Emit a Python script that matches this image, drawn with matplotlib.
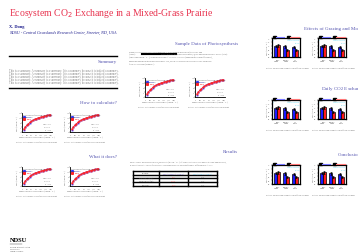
import matplotlib
matplotlib.use("Agg")
import matplotlib.pyplot as plt
from matplotlib.lines import Line2D
from matplotlib.patches import Rectangle

W, H = 358, 253

# ---- data ----
par = [100, 200, 300, 400, 500, 600, 700, 800, 900, 1000, 1100, 1200, 1300, 1400, 1500, 1600, 1700, 1800]
nee_obs = [2.0, 4.1, 5.5, 7.1, 8.0, 9.1, 9.8, 10.7, 11.1, 11.8, 12.1, 12.7, 12.9, 13.4, 13.6, 14.1, 14.2, 14.7]
nee_mod = [2.3, 4.0, 5.6, 6.9, 8.1, 9.0, 9.9, 10.6, 11.2, 11.7, 12.2, 12.6, 13.0, 13.3, 13.7, 14.0, 14.3, 14.6]

groups = ["Heavy\ngrazing", "Moderate\ngrazing", "Idle\nmowed"]
bar_blue = [0.58, 0.56, 0.52]
bar_red = [0.62, 0.38, 0.35]
err_blue = [0.07, 0.06, 0.05]
err_red = [0.08, 0.05, 0.05]

table_head = ["Treatment", "NEE (dark/post of 40 cm/yr)", "NEE (40 cm/yr/50 cm/yr)"]
table_rows = [["Ecosystem (control)", "0.041", "0.03a"],
              ["Partial canopy (fall)", "0.038b", "0.02a"],
              ["Ecosystem", "0.04b", "0.03a"]]

summary = "This is a summary. A summary is a summary. It is a summary because it is indeed a summary."

TITLE_C = "#e8334f"
HEAD_C = "#5555b0"
NAVY = "#1c1c8c"
BODY_C = "#888888"

plt.rcParams["font.family"] = ["Liberation Serif", "DejaVu Serif"]
fig = plt.figure(figsize=(W / 100, H / 100), dpi=100)
fig.patch.set_facecolor("white")


def T(x, y, s, **kw):
    kw.setdefault("va", "center")
    fig.text(x / W, 1 - y / H, s, **kw)


def hline(x0, x1, y, lw=1.0, color="black"):
    fig.add_artist(Line2D([x0 / W, x1 / W], [1 - y / H, 1 - y / H], transform=fig.transFigure,
                          lw=lw, color=color))


def add_ax(x, y, w, h):
    return fig.add_axes([x / W, 1 - (y + h) / H, w / W, h / H])


def curve_chart(x, y):
    ax = add_ax(x, y, 30, 19)
    ax.plot(par, nee_obs, "s", ms=1.3, color="#3333ff", mew=0)
    ax.plot(par, nee_mod, "s", ms=1.3, color="#ff2222", mew=0)
    ax.plot(par, nee_mod, "-", lw=0.6, color="#ff2222")
    ax.set_xlim(0, 1900)
    ax.set_ylim(0, 16)
    for s in ["top", "right"]:
        ax.spines[s].set_visible(False)
    for s in ["left", "bottom"]:
        ax.spines[s].set_linewidth(0.6)
    ax.tick_params(length=0.8, width=0.3, labelsize=1.2, pad=0.3, colors="#555555")
    ax.set_xticks([0, 300, 600, 900, 1200, 1500, 1800])
    ax.set_yticks([0, 4, 8, 12, 16])
    ax.set_xlabel("Photosynthetically active radiation (μmol m⁻² s⁻¹)", fontsize=1.3, labelpad=0.5, color="#555555")
    ax.set_ylabel("NEE (μmol m⁻² s⁻¹)", fontsize=1.3, labelpad=0.5, color="#555555")
    ax.text(0.04, 0.99, "Light response of ecosystem CO₂ exchange\nSummer 2009", transform=ax.transAxes,
            fontsize=1.2, va="top", color="#444444")
    ax.plot([0.08], [0.8], "s", ms=1.2, color="#3333ff", transform=ax.transAxes)
    ax.text(0.13, 0.8, "Observed", transform=ax.transAxes, fontsize=1.1, va="center", color="#3333ff")
    ax.plot([0.08], [0.71], "s", ms=1.2, color="#ff2222", transform=ax.transAxes)
    ax.text(0.13, 0.71, "Modeled", transform=ax.transAxes, fontsize=1.1, va="center", color="#ff2222")
    ax.text(0.95, 0.12, "Pmax = 21.4\nα = 0.032\nR² = 0.98", transform=ax.transAxes,
            fontsize=1.1, ha="right", va="bottom", color="#666666", linespacing=2.5)
    T(x + 14, y + 28, "Figure 1. Light response curve of net ecosystem exchange", fontsize=1.3,
      ha="center", color="#666666")


def bar_chart(x, y):
    ax = add_ax(x, y, 28, 19)
    pos = [0, 1, 2]
    bw = 0.32
    ax.bar([p - bw / 2 for p in pos], bar_blue, bw, yerr=err_blue, color="#1a1aff",
           edgecolor="black", lw=0.5, error_kw=dict(lw=0.6, capsize=0.5, capthick=0.4))
    ax.bar([p + bw / 2 for p in pos], bar_red, bw, yerr=err_red, color="#ff1a1a",
           edgecolor="black", lw=0.5, error_kw=dict(lw=0.6, capsize=0.5, capthick=0.4))
    ax.set_xlim(-0.55, 2.55)
    ax.set_ylim(0, 1.0)
    ax.set_xticks(pos)
    ax.set_xticklabels(groups)
    ax.set_yticks([0, 0.2, 0.4, 0.6, 0.8, 1.0])
    for s in ax.spines.values():
        s.set_linewidth(0.9)
    ax.tick_params(length=0.8, width=0.3, labelsize=1.2, pad=0.3, colors="#555555")
    ax.set_ylabel("NEE (g C m⁻² d⁻¹)", fontsize=1.3, labelpad=0.5, color="#555555")
    ax.text(0.97, 0.93, "Control vs grazed\nP < 0.05", transform=ax.transAxes, fontsize=1.2,
            ha="right", va="top", color="#33ccee", linespacing=2.0)
    ax.text(0.05, 0.93, "a", transform=ax.transAxes, fontsize=1.2, va="top", color="#33ccee")
    # legend above axes
    fig.add_artist(Rectangle(((x + 0.5) / W, 1 - (y - 0.5) / H), 3 / W, 2 / H,
                             transform=fig.transFigure, color="black"))
    hline(x + 3.5, x + 12, y - 1.5, lw=0.8, color="#7777ff")
    fig.add_artist(Rectangle(((x + 14.5) / W, 1 - (y - 0.5) / H), 3 / W, 2 / H,
                             transform=fig.transFigure, color="black"))
    hline(x + 17.5, x + 27, y - 1.5, lw=0.8, color="#ff7777")
    T(x + 16, y + 29, "Figure 2. Net ecosystem exchange under different treatments", fontsize=1.3,
      ha="center", color="#666666")


# ---- header ----
T(9, 13.5, "Ecosystem CO$_2$ Exchange in a Mixed-Grass Prairie", fontsize=7.0, color=TITLE_C)
T(9, 27, "X. Dong", fontsize=3.2, color=NAVY, weight="bold")
T(9, 32.5, "NDSU - Central Grasslands Research Center, Streeter, ND, USA", fontsize=3.0,
  color=NAVY, style="italic")

# ---- column 1 ----
hline(9, 117, 57, lw=1.0)
T(117, 62.5, "Summary", fontsize=3.6, color=HEAD_C, ha="right")
for i in range(5):
    T(9, 71 + i * 3.1, summary, fontsize=2.05, color=BODY_C)
hline(9, 117, 88.5, lw=1.0)

T(117, 103, "How to calculate?", fontsize=3.6, color=HEAD_C, ha="right")
curve_chart(22, 114)
curve_chart(70, 114)

T(117, 157, "What it does?", fontsize=3.6, color=HEAD_C, ha="right")
curve_chart(22, 168)
curve_chart(70, 168)

# logo
T(10, 241, "NDSU", fontsize=4.6, color="black", weight="bold")
hline(10, 22, 245, lw=0.3, color="#333333")
T(10, 247, "NORTH DAKOTA STATE", fontsize=1.3, color="#444444")
T(10, 249.5, "UNIVERSITY", fontsize=1.3, color="#444444")
T(10, 252, "Central Grasslands", fontsize=1.3, color="#444444")

# ---- column 2 ----
T(238, 43.5, "Sample Data of Photosynthesis", fontsize=3.6, color=HEAD_C, ha="right")
para = ["Stand canopy photosynthesis is modeled as a rectangular hyperbola (Thornley and",
        "(1990):                                                   where P is the gross photosynthesis, Q the photosynthetically active (PAR)",
        "(μmol photons m⁻² s⁻¹), α the initial slope of the light response (apparent quantum efficiency),",
        "Pmax the maximum gross photosynthetic rate, and R the ecosystem respiration rate estimated",
        "from the intercept (Figure 1)."]
for i, s in enumerate(para):
    T(129, 52 + i * 2.9, s, fontsize=1.55, color="#666666")
hline(142, 176, 55.2, lw=1.5, color="black")

curve_chart(145, 79)
curve_chart(195, 79)

T(238, 152.5, "Results", fontsize=3.6, color=HEAD_C, ha="right")
T(129, 162.5, "Table 1. Daily net ecosystem CO₂ exchange (g C m⁻² d⁻¹) of a mixed-grass prairie under grazing and mowing,",
  fontsize=1.55, color="#666666")
T(129, 165.5, "by using ANOVA. Values followed by the same letter are not significantly different at P < 0.05.",
  fontsize=1.55, color="#666666")

tax = add_ax(133, 172, 84, 15)
tax.set_xlim(0, 84)
tax.set_ylim(15, 0)
tax.axis("off")
col_x = [0, 26, 55, 84]
row_y = [0, 3.7, 7.4, 11.1, 15]
for yy in row_y:
    tax.plot([0, 84], [yy, yy], color="black", lw=1.0, clip_on=False)
for xx in col_x:
    tax.plot([xx, xx], [0, 15], color="black", lw=1.0, clip_on=False)
head_cols = ["#555555", "#6a5acd", "#44bbee"]
for j, s in enumerate(table_head):
    tax.text((col_x[j] + col_x[j + 1]) / 2, 1.85, s, fontsize=1.3, ha="center", va="center", color=head_cols[j])
for i, row in enumerate(table_rows):
    yc = (row_y[i + 1] + row_y[i + 2]) / 2
    for j, s in enumerate(row):
        c = ["#555555", "#ff5555", "#777777"][j]
        tax.text((col_x[j] + col_x[j + 1]) / 2, yc, s, fontsize=1.3, ha="center", va="center", color=c)

# ---- column 3 (headings run off the right edge, as in the poster) ----
T(304, 29, "Effects of Grazing and Mowing", fontsize=3.6, color=HEAD_C)
bar_chart(272, 39)
bar_chart(318, 39)

T(321, 89, "Daily CO$_2$ Exchange", fontsize=3.6, color=HEAD_C)
bar_chart(272, 101)
bar_chart(318, 101)

T(338, 155, "Conclusions", fontsize=3.6, color=HEAD_C)
bar_chart(272, 166)
bar_chart(318, 166)

fig.savefig("out.png", dpi=100, facecolor="white")
